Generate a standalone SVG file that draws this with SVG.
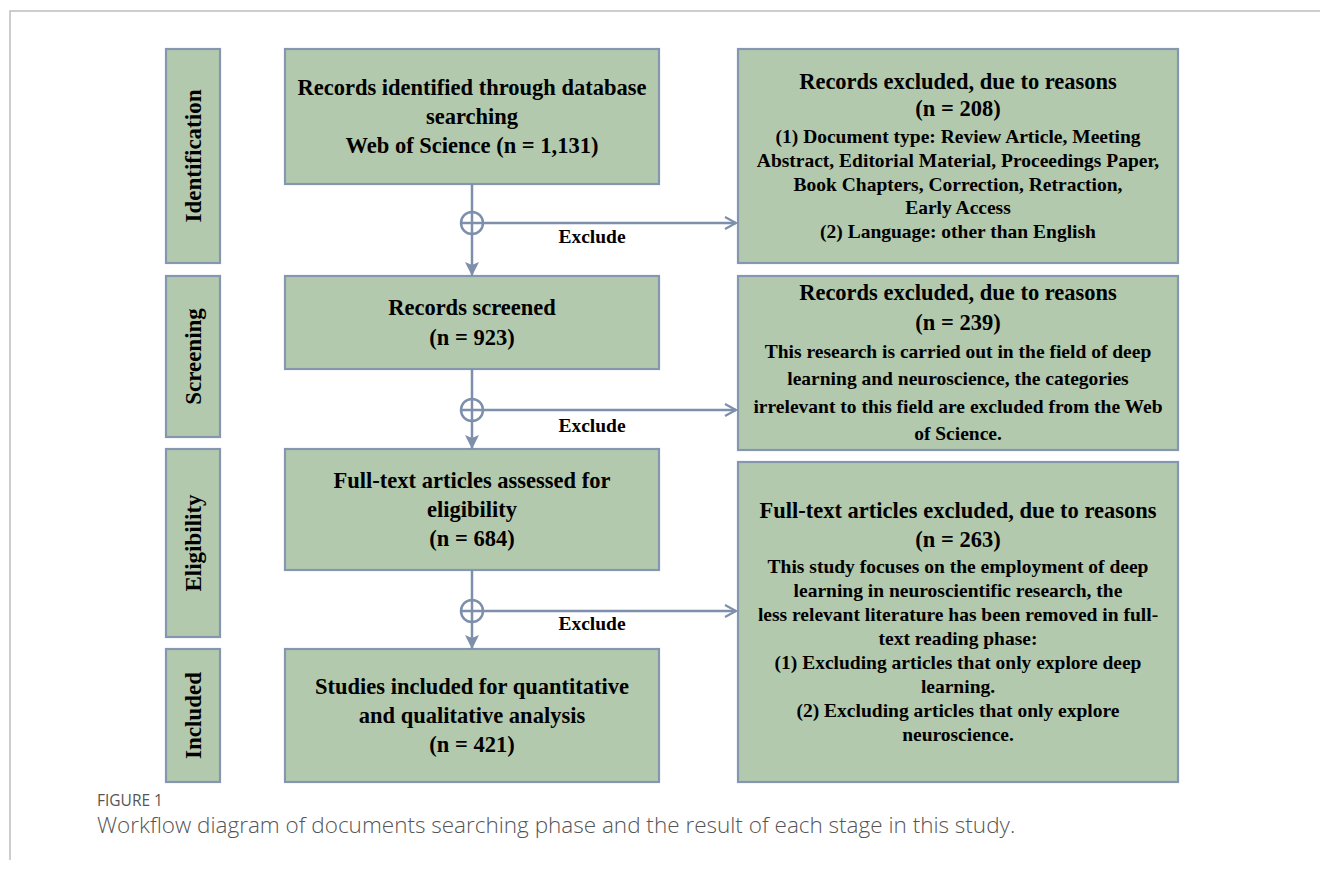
<svg xmlns="http://www.w3.org/2000/svg" width="1320" height="870" viewBox="0 0 1320 870">
<style>
.box{fill:#b3c9ad;stroke:#8496b0;stroke-width:2.2}
.t{font-family:"Liberation Serif","Times New Roman",serif;font-weight:bold;fill:#000;text-anchor:middle}
.h{font-size:22.5px}
.b{font-size:19.5px}
.lbl{font-family:"Liberation Serif","Times New Roman",serif;font-weight:bold;font-size:23px;fill:#000;text-anchor:middle}
.ln{stroke:#7d8fab;stroke-width:2.5;fill:none}
.cap{font-family:"Open Sans","Liberation Sans",sans-serif;fill:#555}
</style>
<defs>
<marker id="down" markerUnits="userSpaceOnUse" markerWidth="16" markerHeight="16" refX="14" refY="7" orient="auto" viewBox="0 0 16 14">
<path d="M0,0 L14,7 L0,14 L3,7 z" fill="#7d8fab"/>
</marker>
<marker id="open" markerUnits="userSpaceOnUse" markerWidth="16" markerHeight="16" refX="12" refY="7" orient="auto" viewBox="0 0 16 14">
<path d="M1,1 L12,7 L1,13" fill="none" stroke="#7d8fab" stroke-width="2.2"/>
</marker>
</defs>
<rect x="0" y="0" width="1320" height="870" fill="#fff"/>
<path d="M10,860 L10,11 L1320,11" fill="none" stroke="#bdbdbd" stroke-width="1.5"/>

<g id="label-identification"><rect class="box" x="166" y="49" width="54" height="214"/><text class="lbl" transform="translate(201,156) rotate(-90)">Identification</text></g>
<g id="label-screening"><rect class="box" x="166" y="276" width="54" height="161"/><text class="lbl" transform="translate(201,356.5) rotate(-90)">Screening</text></g>
<g id="label-eligibility"><rect class="box" x="166" y="449" width="54" height="188"/><text class="lbl" transform="translate(201,543) rotate(-90)">Eligibility</text></g>
<g id="label-included"><rect class="box" x="166" y="649" width="54" height="133"/><text class="lbl" transform="translate(201,715.5) rotate(-90)">Included</text></g>

<g id="identified"><rect class="box" x="285" y="49" width="374" height="135"/>
<text class="t h" x="472" y="95">Records identified through database</text>
<text class="t h" x="472" y="124">searching</text>
<text class="t h" x="472" y="153">Web of Science (n = 1,131)</text></g>

<g id="screened"><rect class="box" x="285" y="276" width="374" height="93"/>
<text class="t h" x="472" y="315">Records screened</text>
<text class="t h" x="472" y="345">(n = 923)</text></g>

<g id="assessed"><rect class="box" x="285" y="449" width="374" height="121"/>
<text class="t h" x="472" y="488">Full-text articles assessed for</text>
<text class="t h" x="472" y="517">eligibility</text>
<text class="t h" x="472" y="546">(n = 684)</text></g>

<g id="included"><rect class="box" x="285" y="649" width="374" height="133"/>
<text class="t h" x="472" y="694">Studies included for quantitative</text>
<text class="t h" x="472" y="723">and qualitative analysis</text>
<text class="t h" x="472" y="752">(n = 421)</text></g>

<g id="excluded-1"><rect class="box" x="738" y="49" width="440" height="214"/>
<text class="t h" x="958" y="89">Records excluded, due to reasons</text>
<text class="t h" x="958" y="116">(n = 208)</text>
<text class="t b" x="958" y="143">(1) Document type: Review Article, Meeting</text>
<text class="t b" x="958" y="167">Abstract, Editorial Material, Proceedings Paper,</text>
<text class="t b" x="958" y="191">Book Chapters, Correction, Retraction,</text>
<text class="t b" x="958" y="214">Early Access</text>
<text class="t b" x="958" y="238">(2) Language: other than English</text></g>

<g id="excluded-2"><rect class="box" x="738" y="276" width="440" height="174"/>
<text class="t h" x="958" y="300">Records excluded, due to reasons</text>
<text class="t h" x="958" y="330">(n = 239)</text>
<text class="t b" x="958" y="358">This research is carried out in the field of deep</text>
<text class="t b" x="958" y="385">learning and neuroscience, the categories</text>
<text class="t b" x="958" y="413">irrelevant to this field are excluded from the Web</text>
<text class="t b" x="958" y="440">of Science.</text></g>

<g id="excluded-3"><rect class="box" x="738" y="462" width="440" height="320"/>
<text class="t h" x="958" y="518">Full-text articles excluded, due to reasons</text>
<text class="t h" x="958" y="547">(n = 263)</text>
<text class="t b" x="958" y="573">This study focuses on the employment of deep</text>
<text class="t b" x="958" y="597">learning in neuroscientific research, the</text>
<text class="t b" x="958" y="621">less relevant literature has been removed in full-</text>
<text class="t b" x="958" y="645">text reading phase:</text>
<text class="t b" x="958" y="669">(1) Excluding articles that only explore deep</text>
<text class="t b" x="958" y="693">learning.</text>
<text class="t b" x="958" y="717">(2) Excluding articles that only explore</text>
<text class="t b" x="958" y="741">neuroscience.</text></g>

<g id="connectors">
<line class="ln" x1="472" y1="184" x2="472" y2="276" marker-end="url(#down)"/>
<line class="ln" x1="472" y1="369" x2="472" y2="449" marker-end="url(#down)"/>
<line class="ln" x1="472" y1="570" x2="472" y2="649" marker-end="url(#down)"/>
<circle class="ln" cx="472" cy="223" r="11"/>
<circle class="ln" cx="472" cy="410" r="11"/>
<circle class="ln" cx="472" cy="611" r="11"/>
<line class="ln" x1="461" y1="223" x2="736" y2="223" marker-end="url(#open)"/>
<line class="ln" x1="461" y1="410" x2="736" y2="410" marker-end="url(#open)"/>
<line class="ln" x1="461" y1="611" x2="736" y2="611" marker-end="url(#open)"/>
<text class="t b" x="592" y="243">Exclude</text>
<text class="t b" x="592" y="432">Exclude</text>
<text class="t b" x="592" y="630">Exclude</text>
</g>

<text class="cap" x="97" y="806" font-size="15.5" fill="#666">FIGURE 1</text>
<text class="cap" x="97" y="833" font-size="22.5" font-weight="300">Workflow diagram of documents searching phase and the result of each stage in this study.</text>
</svg>
